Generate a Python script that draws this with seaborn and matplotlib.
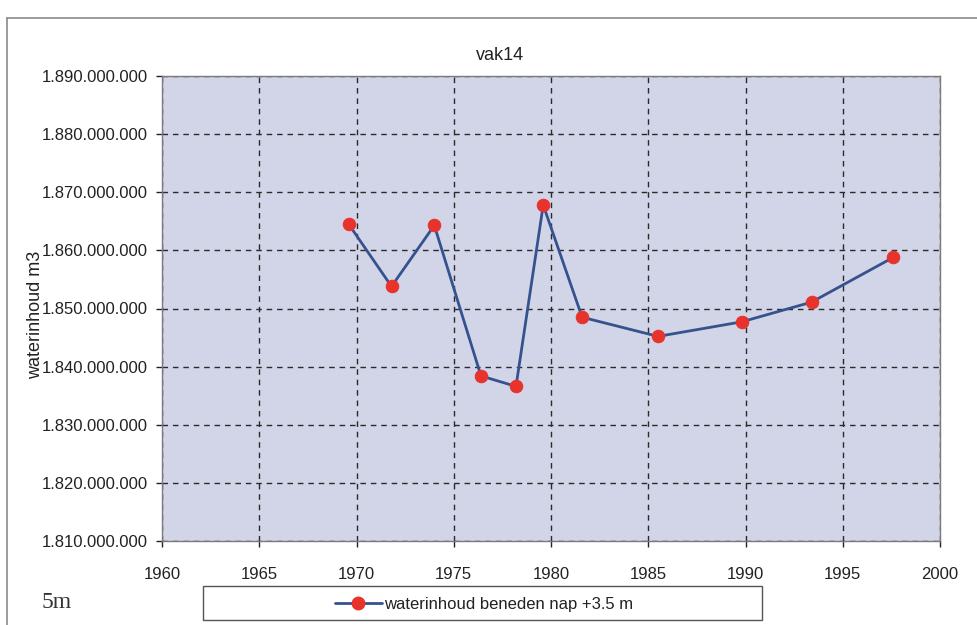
import matplotlib
matplotlib.use("Agg")
import matplotlib.pyplot as plt
import seaborn as sns
import pandas as pd
from matplotlib.ticker import FuncFormatter, MultipleLocator
from matplotlib.patches import Rectangle
from matplotlib.lines import Line2D

years = [1969.6, 1971.8, 1974.0, 1976.4, 1978.2, 1979.6, 1981.6, 1985.5, 1989.8, 1993.4, 1997.6]
values = [1864500000, 1853800000, 1864300000, 1838400000, 1836600000, 1867800000,
          1848500000, 1845200000, 1847700000, 1851100000, 1858800000]
series_label = "waterinhoud beneden nap +3.5 m"
title = "vak14"
ylabel = "waterinhoud m3"
corner_note = "5m"

df = pd.DataFrame({"jaar": years, "waterinhoud": values})

sns.set_theme(style="white")
plt.rcParams["font.family"] = ["Liberation Sans", "DejaVu Sans"]

W, H = 978, 625
fig = plt.figure(figsize=(W / 100, H / 100), dpi=100)
fig.patch.set_facecolor("white")
ax = fig.add_axes([162 / W, 1 - 541 / H, 778 / W, 465 / H])
ax.set_facecolor("#d2d5e8")

line_color = "#36528e"
marker_color = "#e8332c"
sns.lineplot(data=df, x="jaar", y="waterinhoud", ax=ax, color=line_color, linewidth=2,
             marker="o", markersize=9, markerfacecolor=marker_color, markeredgecolor=marker_color,
             legend=False)

ax.set_xlim(1960, 2000)
ax.set_ylim(1810000000, 1890000000)
ax.xaxis.set_major_locator(MultipleLocator(5))
ax.yaxis.set_major_locator(MultipleLocator(10000000))
ax.yaxis.set_major_formatter(FuncFormatter(lambda v, p: f"{int(round(v)):,}".replace(",", ".")))
ax.grid(True, color="#2a2a2a", linestyle=(0, (4, 3.5)), linewidth=1)
for s in ax.spines.values():
    s.set_color("#7a7a7a")
    s.set_linewidth(1)
ax.tick_params(axis="both", labelsize=12, colors="#222222", length=4, width=1, direction="out",
               bottom=True, left=True)
ax.tick_params(axis="x", pad=15)
ax.tick_params(axis="y", pad=6)
ax.set_xlabel("")
ax.set_ylabel(ylabel, fontsize=13, color="#222222")
ax.yaxis.set_label_coords((44 - 162) / 778, 1 - (315 - 76) / 465)

fig.text(500 / W, 1 - 56 / H, title, fontsize=13, ha="center", va="center", color="#222222")

# outer chart border (top and left)
fig.add_artist(Line2D([7 / W, 1.0], [1 - 18 / H, 1 - 18 / H], transform=fig.transFigure,
                      color="#8a8a8a", linewidth=1.2))
fig.add_artist(Line2D([7 / W, 7 / W], [1 - 18 / H, 0.0], transform=fig.transFigure,
                      color="#8a8a8a", linewidth=1.2))

# legend box
fig.add_artist(Rectangle((203 / W, 1 - 620 / H), 559 / W, 34 / H, transform=fig.transFigure,
                         fill=True, facecolor="white", edgecolor="#555555", linewidth=1))
handle = Line2D([], [], color=line_color, linewidth=2, marker="o", markersize=9,
                markerfacecolor=marker_color, markeredgecolor=marker_color)
leg = fig.legend([handle], [series_label], loc="center", bbox_to_anchor=(484 / W, 1 - 604 / H),
                 frameon=False, fontsize=12, handlelength=2.8, handletextpad=0.15)
for t in leg.get_texts():
    t.set_color("#222222")

fig.text(42 / W, 1 - 602 / H, corner_note, fontsize=17, family="Liberation Serif",
         va="center", ha="left", color="#333333")

fig.savefig("out.png", dpi=100)
